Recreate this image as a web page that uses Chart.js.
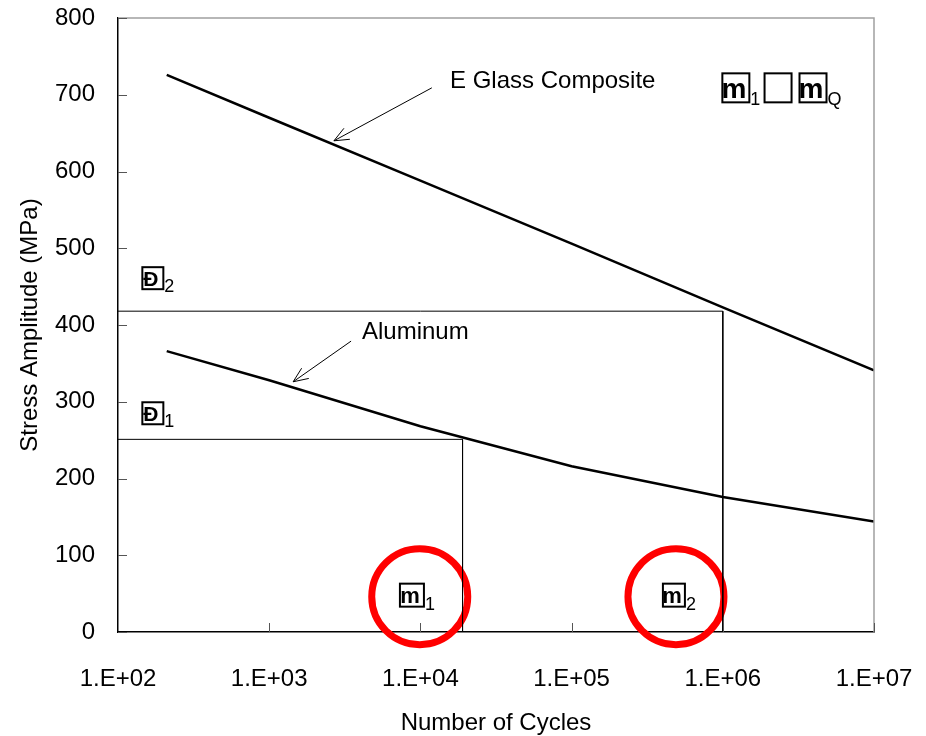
<!DOCTYPE html>
<html>
<head>
<meta charset="utf-8">
<script src="https://cdn.jsdelivr.net/npm/chart.js@4.4.1/dist/chart.umd.min.js"></script>
<style>
html, body { margin: 0; padding: 0; background: #fff; }
canvas { display: block; }
</style>
</head>
<body>
<canvas id="sn-chart" width="926" height="736"></canvas>
<script>
// S-N curves (cycles, MPa)
const glassCycles = [210, 1e3, 1e4, 1e5, 1e6, 1e7];
const glassStress = [726, 670, 588, 506, 423, 341];
const aluCycles = [210, 1e3, 1e4, 1e5, 1e6, 1e7];
const aluStress = [366, 328, 268, 216, 176, 144];

// construction lines
const startCycles = 100;
const sigma1 = 251, n1 = 1.9e4;
const sigma2 = 418, n2 = 1.0e6;

// red circles round the N1 / N2 labels
const circleCycles = [9.9e3, 4.9e5];
const circleStress = [46, 46];

const xTicks = [1e2, 1e3, 1e4, 1e5, 1e6, 1e7];
const yTicks = [0, 100, 200, 300, 400, 500, 600, 700, 800];

const FONT = '"Liberation Sans", Arial, sans-serif';

function pts(xs, ys) {
	return xs.map((x, i) => ({ x: x, y: ys[i] }));
}

// arrows + text labels, in data units
const arrows = [
	{ from: [11900, 709], to: [2680, 640] },
	{ from: [3480, 379], to: [1440, 326] }
];
const labels = [
	{ text: 'E Glass Composite', at: [15700, 718] },
	{ text: 'Aluminum', at: [4110, 390] }
];
// symbols that came out as missing-glyph boxes in the original
const boxes = [
	{ glyph: 'Ð', sub: '2', at: [170, 461], w: 21, h: 22 },
	{ glyph: 'Ð', sub: '1', at: [170, 285], w: 21, h: 22 },
	{ glyph: 'm', sub: '1', at: [8790, 48], w: 24, h: 23 },
	{ glyph: 'm', sub: '2', at: [475000, 48], w: 22, h: 23 },
	{ glyph: 'm', sub: '1', at: [1.22e6, 709], w: 27, h: 29 },
	{ glyph: '', sub: '', at: [2.32e6, 709], w: 27, h: 29 },
	{ glyph: 'm', sub: 'Q', at: [3.95e6, 709], w: 27, h: 29 }
];

function drawArrow(ctx, x1, y1, x2, y2) {
	let a = Math.atan2(y2 - y1, x2 - x1);
	let len = 16;
	ctx.beginPath();
	ctx.moveTo(x1, y1);
	ctx.lineTo(x2, y2);
	ctx.moveTo(x2 - len * Math.cos(a - 0.4), y2 - len * Math.sin(a - 0.4));
	ctx.lineTo(x2, y2);
	ctx.lineTo(x2 - len * Math.cos(a + 0.4), y2 - len * Math.sin(a + 0.4));
	ctx.stroke();
}

const extras = {
	id: 'extras',
	afterDraw(chart) {
		const ctx = chart.ctx;
		const a = chart.chartArea;
		const xs = chart.scales.x, ys = chart.scales.y;
		ctx.save();

		// grey top and right frame
		ctx.strokeStyle = '#a0a0a0';
		ctx.lineWidth = 1.5;
		ctx.beginPath();
		ctx.moveTo(a.left, a.top);
		ctx.lineTo(a.right, a.top);
		ctx.lineTo(a.right, a.bottom);
		ctx.stroke();

		// inward tick marks
		ctx.strokeStyle = '#555';
		ctx.lineWidth = 1;
		ctx.beginPath();
		yTicks.forEach(v => {
			let y = Math.round(ys.getPixelForValue(v)) + 0.5;
			ctx.moveTo(a.left, y);
			ctx.lineTo(a.left + 9, y);
		});
		xTicks.slice(1).forEach(v => {
			let x = Math.round(xs.getPixelForValue(v)) + 0.5;
			ctx.moveTo(x, a.bottom);
			ctx.lineTo(x, a.bottom - 9);
		});
		ctx.stroke();

		// arrows
		ctx.strokeStyle = '#000';
		ctx.lineWidth = 1;
		arrows.forEach(ar => {
			drawArrow(ctx,
				xs.getPixelForValue(ar.from[0]), ys.getPixelForValue(ar.from[1]),
				xs.getPixelForValue(ar.to[0]), ys.getPixelForValue(ar.to[1]));
		});

		// curve labels
		ctx.fillStyle = '#000';
		ctx.font = '24px ' + FONT;
		ctx.textAlign = 'left';
		ctx.textBaseline = 'middle';
		labels.forEach(l => {
			ctx.fillText(l.text, xs.getPixelForValue(l.at[0]), ys.getPixelForValue(l.at[1]));
		});

		// boxed symbols
		boxes.forEach(b => {
			let cx = xs.getPixelForValue(b.at[0]);
			let cy = ys.getPixelForValue(b.at[1]);
			ctx.lineWidth = 2;
			ctx.strokeRect(cx - b.w / 2, cy - b.h / 2, b.w, b.h);
			ctx.textAlign = 'center';
			ctx.textBaseline = 'middle';
			ctx.font = 'bold ' + Math.round(b.h * 0.95) + 'px ' + FONT;
			if (b.glyph) ctx.fillText(b.glyph, cx - 2, cy + 2);
			ctx.textAlign = 'left';
			ctx.font = '18px ' + FONT;
			if (b.sub) ctx.fillText(b.sub, cx + b.w / 2 + 1, cy + b.h / 2 - 2);
		});

		ctx.restore();
	}
};

new Chart(document.getElementById('sn-chart'), {
	type: 'scatter',
	data: {
		datasets: [
			{
				data: pts(glassCycles, glassStress),
				showLine: true, borderColor: '#000', borderWidth: 2.5,
				pointRadius: 0, tension: 0
			},
			{
				data: pts(aluCycles, aluStress),
				showLine: true, borderColor: '#000', borderWidth: 2.5,
				pointRadius: 0, tension: 0
			},
			{
				data: pts([startCycles, n2, n2], [sigma2, sigma2, 0]),
				showLine: true, borderColor: '#000', borderWidth: 1,
				pointRadius: 0
			},
			{
				data: pts([startCycles, n1, n1], [sigma1, sigma1, 0]),
				showLine: true, borderColor: '#000', borderWidth: 1,
				pointRadius: 0
			},
			{
				data: pts(circleCycles, circleStress),
				showLine: false, pointRadius: 48, pointBorderWidth: 7,
				pointBorderColor: '#ff0000', pointBackgroundColor: 'rgba(0,0,0,0)',
				clip: false
			}
		]
	},
	options: {
		responsive: false,
		animation: false,
		layout: { autoPadding: false, padding: { left: 0, right: 52, top: 18, bottom: 0 } },
		plugins: {
			legend: { display: false },
			tooltip: { enabled: false }
		},
		scales: {
			x: {
				type: 'logarithmic',
				min: 1e2, max: 1e7,
				afterBuildTicks: s => { s.ticks = xTicks.map(v => ({ value: v })); },
				afterFit: s => { s.height = 104; s.paddingLeft = 0; s.paddingRight = 0; },
				grid: { display: true, drawOnChartArea: false, drawTicks: false, color: 'rgba(0,0,0,0)' },
				border: { display: true, color: '#000', width: 1.5 },
				ticks: {
					color: '#000', padding: 33, maxRotation: 0, autoSkip: false,
					font: { family: FONT, size: 24 },
					callback: v => '1.E+' + String(Math.round(Math.log10(v))).padStart(2, '0')
				},
				title: {
					display: true, text: 'Number of Cycles', color: '#000',
					font: { family: FONT, size: 24 }, padding: { top: 0, bottom: -2 }
				}
			},
			y: {
				min: 0, max: 800,
				afterBuildTicks: s => { s.ticks = yTicks.map(v => ({ value: v })); },
				afterFit: s => { s.width = 118; s.paddingTop = 0; s.paddingBottom = 0; },
				grid: { display: true, drawOnChartArea: false, drawTicks: false, color: 'rgba(0,0,0,0)' },
				border: { display: true, color: '#000', width: 1.5 },
				ticks: {
					color: '#000', padding: 23,
					font: { family: FONT, size: 24 }
				},
				title: {
					display: true, text: 'Stress Amplitude (MPa)', color: '#000',
					font: { family: FONT, size: 24 }, padding: { top: 16, bottom: 0 }
				}
			}
		}
	},
	plugins: [extras]
});
</script>
</body>
</html>
